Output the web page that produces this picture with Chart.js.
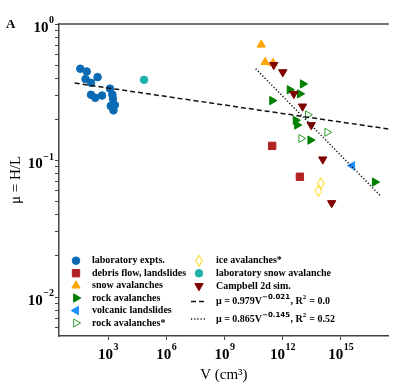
<!DOCTYPE html>
<html>
<head>
<meta charset="utf-8">
<script src="https://cdn.jsdelivr.net/npm/chart.js@4.4.1/dist/chart.umd.min.js"></script>
<style>
  html, body { margin: 0; padding: 0; background: #fff; }
</style>
</head>
<body>
<canvas id="chart" width="395" height="384"></canvas>
<script>
// ---- data (V in cm^3, mu = H/L) ----
const seriesLabels = ['laboratory expts.', 'debris flow, landslides', 'snow avalanches', 'rock avalanches',
  'volcanic landslides', 'rock avalanches*', 'ice avalanches*', 'laboratory snow avalanche', 'Campbell 2d sim.'];

const labExptsV  = [37, 79, 69, 288, 132, 132, 219, 490, 1260, 1660, 1780, 1380, 2240, 1900];
const labExptsMu = [0.47, 0.449, 0.395, 0.408, 0.371, 0.303, 0.288, 0.299, 0.336, 0.304, 0.283, 0.251, 0.255, 0.233];
const debrisV  = [2.9e11, 7.8e12];
const debrisMu = [0.128, 0.076];
const snowV  = [7.9e10, 1.26e11, 3.2e11];
const snowMu = [0.705, 0.526, 0.517];
const rockV  = [1.1e13, 2.3e12, 7.8e12, 2.9e11, 4.7e12, 5.6e12, 2.7e13, 5.7e16];
const rockMu = [0.364, 0.330, 0.308, 0.275, 0.197, 0.182, 0.141, 0.0695];
const volcanicV  = [3.9e15];
const volcanicMu = [0.0916];
const rockStarV  = [2.0e13, 2.0e14, 9.1e12];
const rockStarMu = [0.216, 0.161, 0.145];
const iceStarV  = [9.4e13, 7.1e13];
const iceStarMu = [0.068, 0.060];
const labSnowV  = [7.2e4];
const labSnowMu = [0.390];
const campbellV  = [3.5e11, 1.02e12, 3.8e12, 1.07e13, 3.0e13, 1.18e14, 3.4e14];
const campbellMu = [0.502, 0.444, 0.308, 0.249, 0.182, 0.102, 0.0488];

// fit lines (end points)
const fitAllV  = [19, 3.0e17];
const fitAllMu = [0.369, 0.170];
const fitFieldV  = [4.1e10, 1.23e17];
const fitFieldMu = [0.470, 0.0544];
const fitAllText   = ['μ = 0.979V', '−0.021', ', R', '2', ' = 0.0'];
const fitFieldText = ['μ = 0.865V', '−0.145', ', R', '2', ' = 0.52'];

// axes
const xMin = 2.95, xMax = 3.0e17;
const yMin = 0.00518, yMax = 1;
const xTickExps = [3, 6, 9, 12, 15];
const yTickExps = [0, -1, -2];

// ---- styles ----
function thinDiamond(color) {
  const c = document.createElement('canvas');
  c.width = 8; c.height = 12;
  const g = c.getContext('2d');
  g.strokeStyle = color; g.lineWidth = 1;
  g.beginPath();
  g.moveTo(4, 0.5); g.lineTo(7.3, 6); g.lineTo(4, 11.5); g.lineTo(0.7, 6);
  g.closePath(); g.stroke();
  return c;
}

const styles = [
  { style: 'circle',   rot: 0,   r: 3.8, fill: '#0a6ab4', stroke: '#0a6ab4' },
  { style: 'rect',     rot: 0,   r: 5.2, fill: '#b22222', stroke: '#b22222' },
  { style: 'triangle', rot: 0,   r: 4.8, fill: '#ffa500', stroke: '#ffa500' },
  { style: 'triangle', rot: 90,  r: 4.8, fill: '#008000', stroke: '#008000' },
  { style: 'triangle', rot: 270, r: 4.8, fill: '#1e90ff', stroke: '#1e90ff' },
  { style: 'triangle', rot: 90,  r: 4.6, fill: 'rgba(0,0,0,0)', stroke: '#2ca02c' },
  { style: thinDiamond('#ffd700'), rot: 0, r: 5, fill: 'rgba(0,0,0,0)', stroke: '#ffd700' },
  { style: 'circle',   rot: 0,   r: 3.8, fill: '#20b2aa', stroke: '#20b2aa' },
  { style: 'triangle', rot: 180, r: 4.8, fill: '#800000', stroke: '#800000' }
];

const seriesV  = [labExptsV, debrisV, snowV, rockV, volcanicV, rockStarV, iceStarV, labSnowV, campbellV];
const seriesMu = [labExptsMu, debrisMu, snowMu, rockMu, volcanicMu, rockStarMu, iceStarMu, labSnowMu, campbellMu];

const pts = (xs, ys) => xs.map((v, i) => ({ x: v, y: ys[i] }));

const datasets = seriesLabels.map((lab, i) => ({
  label: lab,
  data: pts(seriesV[i], seriesMu[i]),
  pointStyle: styles[i].style,
  rotation: styles[i].rot,
  pointRadius: styles[i].r,
  pointHoverRadius: styles[i].r,
  backgroundColor: styles[i].fill,
  borderColor: styles[i].stroke,
  borderWidth: 1,
  order: 20 - i
}));

datasets.push({
  label: 'fit all', data: pts(fitAllV, fitAllMu), showLine: true, pointRadius: 0,
  borderColor: '#111', borderWidth: 1.5, borderDash: [5, 3], order: 0
});
datasets.push({
  label: 'fit field', data: pts(fitFieldV, fitFieldMu), showLine: true, pointRadius: 0,
  borderColor: '#111', borderWidth: 1.5, borderDash: [1.2, 2], order: 0
});

const SERIF = '"Liberation Serif", "Times New Roman", serif';
const BASE = 'bold 15px ' + SERIF;
const SUP = 'bold 10px ' + SERIF;

// legend slots: [markerX, textX, y]
const legendSlots = [
  [76, 92, 260.7], [76, 92, 273.2], [76, 92, 285.6], [76, 92, 298], [76, 92, 310.5], [76, 92, 323],
  [199, 216, 260.7], [199, 216, 273.3], [199, 216, 286]
];

function supLabel(ctx, parts, x, y, font, supFont, supSansFont) {
  // parts: base, sup, base, sup, base...
  let cx = x;
  parts.forEach((p, k) => {
    const isSup = k % 2 === 1;
    ctx.font = isSup ? (k === 1 && supSansFont ? supSansFont : supFont) : font;
    ctx.fillText(p, cx, isSup ? y - 4 : y);
    cx += ctx.measureText(p).width + (isSup ? 0.5 : 0);
  });
}

const framePlugin = {
  id: 'frame',
  afterDraw(chart) {
    const { ctx, chartArea: a, scales: { x, y } } = chart;
    ctx.save();
    // top frame
    ctx.strokeStyle = '#444'; ctx.lineWidth = 1.5;
    ctx.beginPath(); ctx.moveTo(a.left, a.top); ctx.lineTo(a.right, a.top); ctx.stroke();

    ctx.fillStyle = '#000';
    ctx.textBaseline = 'alphabetic';
    ctx.textAlign = 'left';
    // x tick labels
    xTickExps.forEach(e => {
      const px = x.getPixelForValue(Math.pow(10, e));
      const sup = String(e).replace('-', '−');
      ctx.font = BASE; const w1 = ctx.measureText('10').width;
      ctx.font = SUP; const w2 = ctx.measureText(sup).width;
      const x0 = px - (w1 + w2) / 2;
      ctx.font = BASE; ctx.fillText('10', x0, 359);
      ctx.font = SUP; ctx.fillText(sup, x0 + w1 + 0.5, 350);
    });
    // y tick labels
    yTickExps.forEach(e => {
      const py = y.getPixelForValue(Math.pow(10, e));
      const sup = String(e).replace('-', '−');
      ctx.font = SUP; const w2 = ctx.measureText(sup).width;
      ctx.font = BASE; const w1 = ctx.measureText('10').width;
      const x1 = 54;
      ctx.font = BASE; ctx.fillText('10', x1 - w2 - w1 - 0.5, py + 7.5);
      ctx.font = SUP; ctx.fillText(sup, x1 - w2, py - 1);
    });
    // panel letter
    ctx.font = 'bold 13px ' + SERIF;
    ctx.fillText('A', 6, 28);

    // legend
    ctx.textBaseline = 'middle';
    seriesLabels.forEach((lab, i) => {
      const [mx, tx, ly] = legendSlots[i];
      const s = styles[i];
      ctx.fillStyle = s.fill; ctx.strokeStyle = s.stroke; ctx.lineWidth = 1;
      Chart.helpers.drawPoint(ctx, { pointStyle: s.style, rotation: s.rot, radius: s.r, borderWidth: 1 }, mx, ly);
      ctx.fillStyle = '#000';
      ctx.font = 'bold 10px ' + SERIF;
      ctx.fillText(lab, tx, ly);
    });
    // fit lines in legend
    const fitRows = [[fitAllText, [5, 3], 301.5], [fitFieldText, [1.2, 2], 319]];
    fitRows.forEach(([parts, dash, ly]) => {
      ctx.strokeStyle = '#111'; ctx.lineWidth = 1.5; ctx.setLineDash(dash);
      ctx.beginPath(); ctx.moveTo(191, ly); ctx.lineTo(207, ly); ctx.stroke();
      ctx.setLineDash([]);
      ctx.fillStyle = '#000';
      supLabel(ctx, parts, 216, ly, 'bold 10px ' + SERIF, 'bold 7px ' + SERIF, 'bold 7px "DejaVu Sans", sans-serif');
    });
    ctx.restore();
  }
};

function yTicks() {
  const t = [];
  for (let e = -3; e <= 0; e++) {
    for (let m = 1; m <= 9; m++) {
      const v = m * Math.pow(10, e);
      if (v >= yMin && v <= yMax * 1.0001) t.push({ value: v, major: m === 1 });
    }
  }
  return t;
}

new Chart(document.getElementById('chart'), {
  type: 'scatter',
  data: { datasets },
  options: {
    responsive: false,
    animation: false,
    layout: { padding: { top: 24, right: 0, left: 0, bottom: 0 } },
    plugins: { legend: { display: false }, tooltip: { enabled: false } },
    scales: {
      x: {
        type: 'logarithmic', min: xMin, max: xMax,
        afterBuildTicks: s => { s.ticks = xTickExps.map(e => ({ value: Math.pow(10, e) })); },
        afterFit: s => { s.height = 48; },
        ticks: { display: false },
        grid: { drawOnChartArea: false, drawTicks: true, tickLength: 4, tickColor: '#444', tickWidth: 1 },
        border: { display: true, color: '#444', width: 1.5 },
        title: { display: true, text: 'V (cm³)', color: '#000', padding: { top: 0, bottom: 0 },
          font: { family: SERIF, size: 15, weight: 'normal' } }
      },
      y: {
        type: 'logarithmic', min: yMin, max: yMax,
        afterBuildTicks: s => { s.ticks = yTicks(); },
        afterFit: s => { s.width = 59; },
        ticks: { display: false },
        grid: { drawOnChartArea: false, drawTicks: true, tickLength: 4, tickColor: '#444', tickWidth: 1 },
        border: { display: true, color: '#444', width: 1.5 },
        title: { display: true, text: 'μ = H/L', color: '#000', padding: { top: 7, bottom: 0 },
          font: { family: SERIF, size: 15, weight: 'normal' } }
      }
    }
  },
  plugins: [framePlugin]
});
</script>
</body>
</html>
